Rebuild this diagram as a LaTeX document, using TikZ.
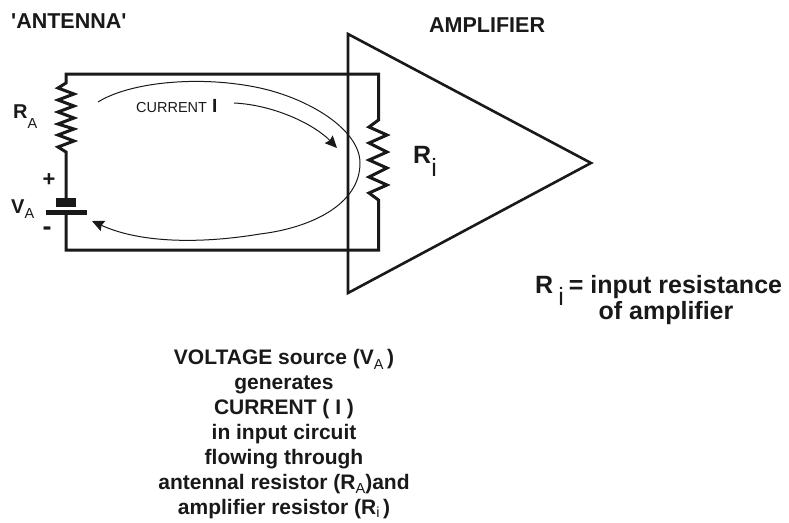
\documentclass[tikz,border=0pt]{standalone}
\usepackage{fontspec}
\setmainfont{Liberation Sans}
\usetikzlibrary{arrows.meta}
\definecolor{ink}{gray}{0.1}
\newcommand{\sublow}[2]{\smash{\raisebox{-#1pt}{\fontseries{m}\selectfont\fontsize{14.5}{14.5}\selectfont #2}}}
\tikzset{
  wire/.style={ink,line width=3pt},
  amp/.style={ink,line width=2.6pt},
  flow/.style={ink,line width=1pt,-{Stealth[length=12pt,width=11pt,inset=1.5pt]}},
  label/.style={ink,inner sep=0pt,anchor=base west,font=\bfseries\fontsize{21.5}{21.5}\selectfont},
  bigl/.style={ink,inner sep=0pt,anchor=base west,font=\bfseries\fontsize{25}{25}\selectfont},
}
\begin{document}
\begin{tikzpicture}[line cap=butt,line join=miter,x=1pt,y=-1pt]
                        \useasboundingbox (0,0) rectangle (789,522);
                        % amplifier
                        \draw [amp] (348,34)-- (591,163)-- (348,293)-- cycle;
                        % circuit with the two resistors and the cell
                        \draw [wire] (66,198)-- (66,152)-- (58,147)-- (74,141)-- (58,135)-- (74,129)-- (58,124)-- (74,118)-- (58,112)-- (74,106)-- (58,100)-- (74,94)-- (58,88)-- (66,83)-- (66,74)-- (378.5,74)-- (378.5,120)-- (369,127)-- (387,135)-- (369,143)-- (387,152)-- (369,160)-- (387,168)-- (369,177)-- (387,185)-- (369,193)-- (378.5,200)-- (378.5,250)-- (66,250)-- (66,214);
                        \draw [fill=ink,draw=none] (56,198) rectangle (76,207);
                        \draw [fill=ink,draw=none] (46,210) rectangle (87,215);
                        % current loop
                        \draw [flow] (98,102) .. controls (130,82) and (200,75) .. (260,88) .. controls (310,99) and (360,130) .. (360,163) .. controls (360,205) and (310,228) .. (260,234) .. controls (200,244) and (140,243) .. (92,221);
                        \draw [flow] (234,103) .. controls (275,105) and (315,125) .. (337,148);
                        % labels
                        \node [label] (antenna) at (11,28) {\textquotesingle ANTENNA\textquotesingle};
                        \node [label] (amplifier) at (429,32) {AMPLIFIER};
                        \node [ink,inner sep=0pt,anchor=base west] (current) at (136,112) {\fontsize{14.5}{14.5}\selectfont CURRENT};
                        \node [ink,inner sep=0pt,anchor=base west] (currenti) at (212,112) {\bfseries\fontsize{19}{19}\selectfont I};
                        \node [bigl] (ra) at (13,118) {\fontsize{20}{20}\selectfont R\sublow{10}{A}};
                        \node [bigl] (va) at (11,213) {\fontsize{20}{20}\selectfont V\sublow{5}{A}};
                        \node [ink,inner sep=0pt,font=\bfseries\fontsize{22}{22}\selectfont] (plus) at (49,180) {+};
                        \node [ink,inner sep=0pt,font=\bfseries\fontsize{27}{27}\selectfont] (minus) at (47,231) {-};
                        \node [bigl] (ri) at (413,163) {R\raisebox{-13pt}{\fontseries{m}\selectfont i}};
                        \node [bigl] (rieq) at (535,293) {R\hspace{5pt}\raisebox{-12pt}{\fontseries{m}\selectfont i}\hspace{5pt}= input resistance};
                        \node [bigl,anchor=base] (riof) at (666,319) {of amplifier};
                        \node [ink,inner sep=0pt,anchor=north,align=center,font=\bfseries\fontsize{21}{25}\selectfont] (source) at (284,349) {VOLTAGE source (V\sublow{5}{A}\,)\\generates\\CURRENT ( I )\\in input circuit\\flowing through\\antennal resistor (R\sublow{4}{A})and\\amplifier resistor (R\sublow{3}{i}\,)};
                    \end{tikzpicture}
\end{document}
